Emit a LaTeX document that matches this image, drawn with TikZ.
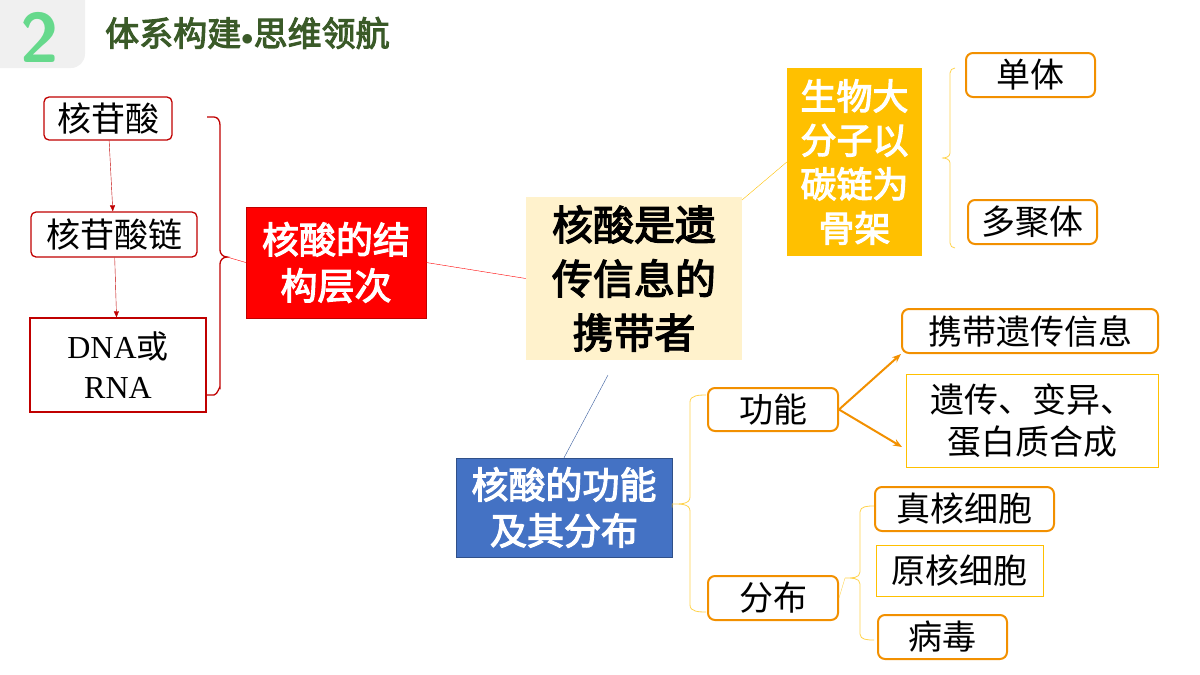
\documentclass[tikz,border=0pt]{standalone}
\usepackage{fontspec}
\setmainfont{Liberation Serif}
\newfontfamily\cjk{Noto Sans CJK SC}
\newfontfamily\cjkb{Noto Sans CJK SC}[FakeBold=3]
\usetikzlibrary{arrows.meta,decorations.pathreplacing}
\definecolor{dred}{HTML}{C00000}
\definecolor{org}{HTML}{F29000}
\definecolor{lorg}{HTML}{FFC000}
\definecolor{cream}{HTML}{FFF2CC}
\definecolor{bl}{HTML}{4472C4}
\definecolor{grn}{HTML}{3A5A28}
\begin{document}
\begin{tikzpicture}[x=1pt,y=-1pt,
  redbox/.style={draw=dred,line width=1.3pt,rounded corners=5pt,font=\cjk\fontsize{34}{38}\selectfont,inner sep=0pt},
  obox/.style={draw=org,line width=2pt,rounded corners=7pt,font=\cjk\fontsize{34}{38}\selectfont,inner sep=0pt},
  othin/.style={draw=lorg,line width=1pt,font=\cjk\fontsize{34}{42}\selectfont,inner sep=0pt,align=center},
  bigbox/.style={inner sep=0pt,align=center,font=\cjkb\fontsize{37}{46}\selectfont,text=white}]
\useasboundingbox (0,0) rectangle (1200,675);
% header
\fill[gray!12,rounded corners=14pt] (-20,-20) rectangle (85,68);
\node[font=\fontfamily{lmss}\bfseries\fontsize{70}{70}\selectfont,text=teal!50!green!60,draw=none] (two) at (40,37) {2};
\node[font=\cjkb\fontsize{34}{34}\selectfont,text=grn,anchor=west,inner sep=0pt] (title) at (105,33) {体系构建{\fontfamily{lmr}\selectfont$\bullet$}思维领航};
% left column
\node[redbox,minimum width=128,minimum height=43] (n1) at (108,118.5) {核苷酸};
\node[redbox,minimum width=166,minimum height=45] (n2) at (114,234.5) {核苷酸链};
\node[draw=dred,line width=1.3pt,minimum width=176,minimum height=94,inner sep=0pt,align=center,font=\fontsize{32}{40}\selectfont] (n3) at (118,365) {DNA{\cjk 或}\\RNA};
\draw[dred,-{Triangle[length=6pt,width=5pt]}] (n1) -- (n2);
\draw[dred,-{Triangle[length=6pt,width=5pt]}] (n2) -- (n3);
\draw[dred,line width=1.3pt] (207,117) -- (214,117) to[out=0,in=90] (220,125) -- (220,250) to[out=-90,in=180] (227,257) coordinate (b1) to[out=180,in=90] (220,264) -- (220,388) to[out=90,in=0] (214,395) -- (207,395);
\node[fill=red,draw=dred,minimum width=180,minimum height=111,bigbox] (st) at (336,262.5) {核酸的结\\构层次};
\draw[red] (b1) -- (st.west);
% center
\node[fill=cream,minimum width=216,minimum height=163,bigbox,text=black,font=\cjkb\fontsize{41}{54}\selectfont] (c) at (634,278.5) {核酸是遗\\传信息的\\携带者};
\draw[red] (st.east) -- (c.west);
% top right
\node[fill=lorg,minimum width=135,minimum height=188,bigbox,font=\cjkb\fontsize{36}{44}\selectfont] (y) at (854.5,162) {生物大\\分子以\\碳链为\\骨架};
\draw[lorg] (742,200) -- (y.west);
\draw[lorg!70,line width=0.8pt] (955,68) to[out=180,in=90] (950,73) -- (950,153) to[out=-90,in=0] (942,158) coordinate (b2) to[out=0,in=90] (950,163) -- (950,243) to[out=-90,in=180] (955,248);
\node[obox,minimum width=129,minimum height=44] (d1) at (1030.5,75) {单体};
\node[obox,minimum width=129,minimum height=44] (d2) at (1032.5,222) {多聚体};
% bottom
\node[fill=bl,draw=bl!70!black,minimum width=216,minimum height=99,bigbox] (f) at (564,507.5) {核酸的功能\\及其分布};
\coordinate (cb) at (608,375);
\draw[bl!80!black] (cb) -- (f.north);
\draw[lorg!70,line width=0.8pt] (706,395) to[out=180,in=90] (690,402) -- (690,497) to[out=-90,in=0] (672,504) coordinate (b3) to[out=0,in=90] (690,511) -- (690,605) to[out=-90,in=180] (706,612);
\draw[lorg] (f.east) -- (b3);
\node[obox,minimum width=130,minimum height=43] (g) at (773,409.5) {功能};
\node[obox,minimum width=130,minimum height=44] (h) at (773,598) {分布};
\node[obox,minimum width=256,minimum height=44] (g1) at (1030,331) {携带遗传信息};
\node[othin,minimum width=252,minimum height=93] (g2) at (1032,420.5) {遗传、变异、\\蛋白质合成};
\draw[org,line width=2pt,-{Stealth[length=9pt,width=7pt]}] (g.east) -- (g1.south west);
\draw[org,line width=2pt,-{Stealth[length=9pt,width=7pt]}] (g.east) -- (902,447);
\draw[lorg!70,line width=0.8pt] (874,506) to[out=180,in=90] (860,512) -- (860,572) to[out=-90,in=0] (845,578) coordinate (b4) to[out=0,in=90] (860,584) -- (860,634) to[out=-90,in=180] (874,640);
\draw[lorg!70] (h.east) -- (b4);
\node[obox,minimum width=179,minimum height=44] (h1) at (964.5,509) {真核细胞};
\node[othin,minimum width=167,minimum height=51] (h2) at (959.5,570.5) {原核细胞};
\node[obox,minimum width=129,minimum height=44] (h3) at (942.5,637) {病毒};
\end{tikzpicture}
\end{document}
